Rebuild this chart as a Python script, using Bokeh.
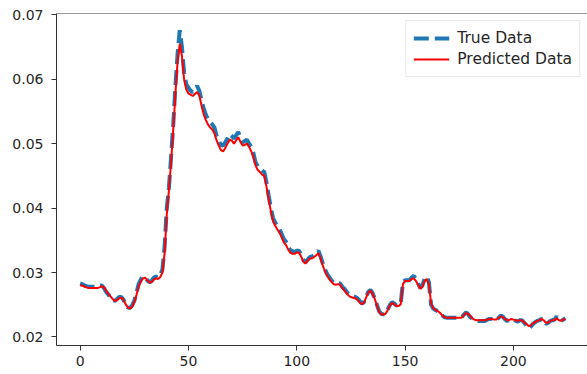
from bokeh.plotting import figure
from bokeh.models import FixedTicker, PrintfTickFormatter, Span, Legend, LegendItem, Range1d
from bokeh.embed import file_html
from bokeh.resources import INLINE

# Observed series, one value per time step
true_data = [
    0.0283, 0.0282, 0.0280, 0.0279, 0.0278, 0.0278, 0.0278, 0.0278, 0.0278, 0.0280,
    0.0280, 0.0276, 0.0270, 0.0266, 0.0262, 0.0258, 0.0256, 0.0259, 0.0262, 0.0262,
    0.0258, 0.0250, 0.0246, 0.0245, 0.0249, 0.0256, 0.0268, 0.0282, 0.0289, 0.0294,
    0.0293, 0.0288, 0.0285, 0.0287, 0.0292, 0.0294, 0.0292, 0.0296, 0.0305, 0.0340,
    0.0400, 0.0432, 0.0480, 0.0530, 0.0590, 0.0640, 0.0676, 0.0650, 0.0610, 0.0592,
    0.0587, 0.0582, 0.0580, 0.0584, 0.0590, 0.0582, 0.0568, 0.0555, 0.0545, 0.0538,
    0.0533, 0.0530, 0.0525, 0.0512, 0.0505, 0.0498, 0.0497, 0.0502, 0.0508, 0.0515,
    0.0512, 0.0508, 0.0513, 0.0518, 0.0510, 0.0502, 0.0504, 0.0506, 0.0500, 0.0495,
    0.0485, 0.0471, 0.0465, 0.0461, 0.0458, 0.0456, 0.0440, 0.0420, 0.0401, 0.0385,
    0.0378, 0.0372, 0.0368, 0.0360, 0.0352, 0.0348, 0.0340, 0.0335, 0.0333, 0.0332,
    0.0334, 0.0334, 0.0328, 0.0320, 0.0316, 0.0320, 0.0324, 0.0325, 0.0327, 0.0330,
    0.0334, 0.0325, 0.0314, 0.0305, 0.0298, 0.0293, 0.0288, 0.0284, 0.0283, 0.0284,
    0.0283, 0.0278, 0.0275, 0.0270, 0.0266, 0.0264, 0.0263, 0.0262, 0.0260, 0.0256,
    0.0252, 0.0254, 0.0262, 0.0270, 0.0273, 0.0268, 0.0260, 0.0250, 0.0240, 0.0236,
    0.0235, 0.0236, 0.0243, 0.0250, 0.0254, 0.0252, 0.0249, 0.0249, 0.0252, 0.0285,
    0.0288, 0.0288, 0.0288, 0.0292, 0.0295, 0.0290, 0.0283, 0.0276, 0.0280, 0.0290,
    0.0294, 0.0285, 0.0250, 0.0244, 0.0242, 0.0240, 0.0238, 0.0234, 0.0231, 0.0230,
    0.0230, 0.0230, 0.0230, 0.0230, 0.0230, 0.0230, 0.0230, 0.0234, 0.0238, 0.0236,
    0.0231, 0.0228, 0.0226, 0.0225, 0.0225, 0.0225, 0.0225, 0.0225, 0.0227, 0.0228,
    0.0228, 0.0227, 0.0226, 0.0229, 0.0233, 0.0232, 0.0228, 0.0225, 0.0226, 0.0228,
    0.0227, 0.0225, 0.0224, 0.0226, 0.0226, 0.0222, 0.0218, 0.0213, 0.0216, 0.0220,
    0.0223, 0.0225, 0.0226, 0.0228, 0.0226, 0.0220, 0.0222, 0.0225, 0.0226, 0.0227,
    0.0232, 0.0226, 0.0225, 0.0227, 0.0229,
]

# Model output for the same time steps
predicted_data = [
    0.0280, 0.0280, 0.0278, 0.0277, 0.0276, 0.0276, 0.0276, 0.0276, 0.0276, 0.0277,
    0.0279, 0.0277, 0.0272, 0.0267, 0.0263, 0.0259, 0.0256, 0.0257, 0.0260, 0.0261,
    0.0258, 0.0251, 0.0246, 0.0244, 0.0247, 0.0254, 0.0265, 0.0278, 0.0286, 0.0291,
    0.0292, 0.0288, 0.0285, 0.0285, 0.0289, 0.0291, 0.0290, 0.0293, 0.0300, 0.0330,
    0.0390, 0.0428, 0.0472, 0.0522, 0.0578, 0.0628, 0.0655, 0.0636, 0.0600, 0.0584,
    0.0578, 0.0576, 0.0574, 0.0577, 0.0580, 0.0575, 0.0560, 0.0546, 0.0537, 0.0530,
    0.0525, 0.0522, 0.0516, 0.0505, 0.0497, 0.0490, 0.0488, 0.0493, 0.0500, 0.0506,
    0.0505, 0.0500, 0.0505, 0.0510, 0.0503, 0.0497, 0.0498, 0.0500, 0.0495, 0.0488,
    0.0478, 0.0466, 0.0459, 0.0456, 0.0452, 0.0450, 0.0434, 0.0414, 0.0396, 0.0380,
    0.0373, 0.0367, 0.0362, 0.0355, 0.0347, 0.0343, 0.0336, 0.0331, 0.0329, 0.0329,
    0.0331, 0.0331, 0.0325, 0.0317, 0.0314, 0.0318, 0.0322, 0.0322, 0.0324, 0.0327,
    0.0330, 0.0322, 0.0311, 0.0302, 0.0295, 0.0290, 0.0286, 0.0282, 0.0281, 0.0282,
    0.0281, 0.0276, 0.0272, 0.0268, 0.0264, 0.0262, 0.0261, 0.0260, 0.0258, 0.0254,
    0.0251, 0.0253, 0.0261, 0.0269, 0.0272, 0.0267, 0.0259, 0.0249, 0.0239, 0.0235,
    0.0235, 0.0236, 0.0242, 0.0249, 0.0253, 0.0251, 0.0248, 0.0248, 0.0251, 0.0282,
    0.0287, 0.0287, 0.0287, 0.0290, 0.0291, 0.0287, 0.0281, 0.0275, 0.0278, 0.0287,
    0.0290, 0.0282, 0.0252, 0.0245, 0.0242, 0.0240, 0.0238, 0.0234, 0.0231, 0.0230,
    0.0230, 0.0230, 0.0230, 0.0230, 0.0230, 0.0230, 0.0230, 0.0233, 0.0237, 0.0236,
    0.0233, 0.0229, 0.0227, 0.0226, 0.0226, 0.0226, 0.0226, 0.0226, 0.0227, 0.0228,
    0.0228, 0.0227, 0.0227, 0.0229, 0.0232, 0.0231, 0.0228, 0.0226, 0.0226, 0.0228,
    0.0227, 0.0226, 0.0225, 0.0226, 0.0226, 0.0223, 0.0220, 0.0217, 0.0218, 0.0221,
    0.0223, 0.0225, 0.0226, 0.0228, 0.0226, 0.0222, 0.0222, 0.0225, 0.0226, 0.0226,
    0.0229, 0.0226, 0.0225, 0.0227, 0.0228,
]

steps = list(range(len(true_data)))

x_ticks = [0, 50, 100, 150, 200]
y_ticks = [0.02, 0.03, 0.04, 0.05, 0.06, 0.07]

FONT = "DejaVu Sans"
TEXT_COLOR = "#262626"
SPINE_COLOR = "#333333"

p = figure(
    width=587, height=374,
    output_backend="svg", toolbar_location=None,
    x_range=Range1d(-10.9, 234.2), y_range=Range1d(0.01868, 0.0702),
    min_border_left=56, min_border_right=0, min_border_top=13, min_border_bottom=29,
)
p.background_fill_color = "white"
p.border_fill_color = "white"
p.outline_line_color = None
p.xgrid.visible = False
p.ygrid.visible = False

for ax in (p.xaxis[0], p.yaxis[0]):
    ax.axis_line_color = SPINE_COLOR
    ax.axis_line_width = 1
    ax.major_tick_line_color = SPINE_COLOR
    ax.major_tick_out = 5
    ax.major_tick_in = 0
    ax.minor_tick_line_color = None
    ax.major_label_text_font = FONT
    ax.major_label_text_font_size = "14px"
    ax.major_label_text_color = TEXT_COLOR

p.xaxis.ticker = FixedTicker(ticks=x_ticks)
p.yaxis.ticker = FixedTicker(ticks=y_ticks)
p.yaxis.formatter = PrintfTickFormatter(format="%.2f")
p.xaxis.major_label_standoff = 5
p.yaxis.major_label_standoff = 8

# top spine of the frame
p.add_layout(Span(location=0.0702, dimension="width", line_color=SPINE_COLOR, line_width=1))

r_true = p.line(steps, true_data, line_color="#1f77b4", line_width=4, line_dash="15 6")
r_pred = p.line(steps, predicted_data, line_color="#ff0000", line_width=2)

legend = Legend(
    items=[LegendItem(label="True Data", renderers=[r_true]),
           LegendItem(label="Predicted Data", renderers=[r_pred])],
    location="top_right",
    margin=7, padding=7, spacing=1,
    glyph_width=36, glyph_height=20, label_height=20, label_standoff=8,
    label_text_font=FONT, label_text_font_size="15.5px", label_text_color=TEXT_COLOR,
    border_line_color="#d0d0d0", border_line_width=1,
    background_fill_color="white", background_fill_alpha=0.8,
)
p.add_layout(legend)

open("out.html", "w").write(file_html(p, INLINE))
